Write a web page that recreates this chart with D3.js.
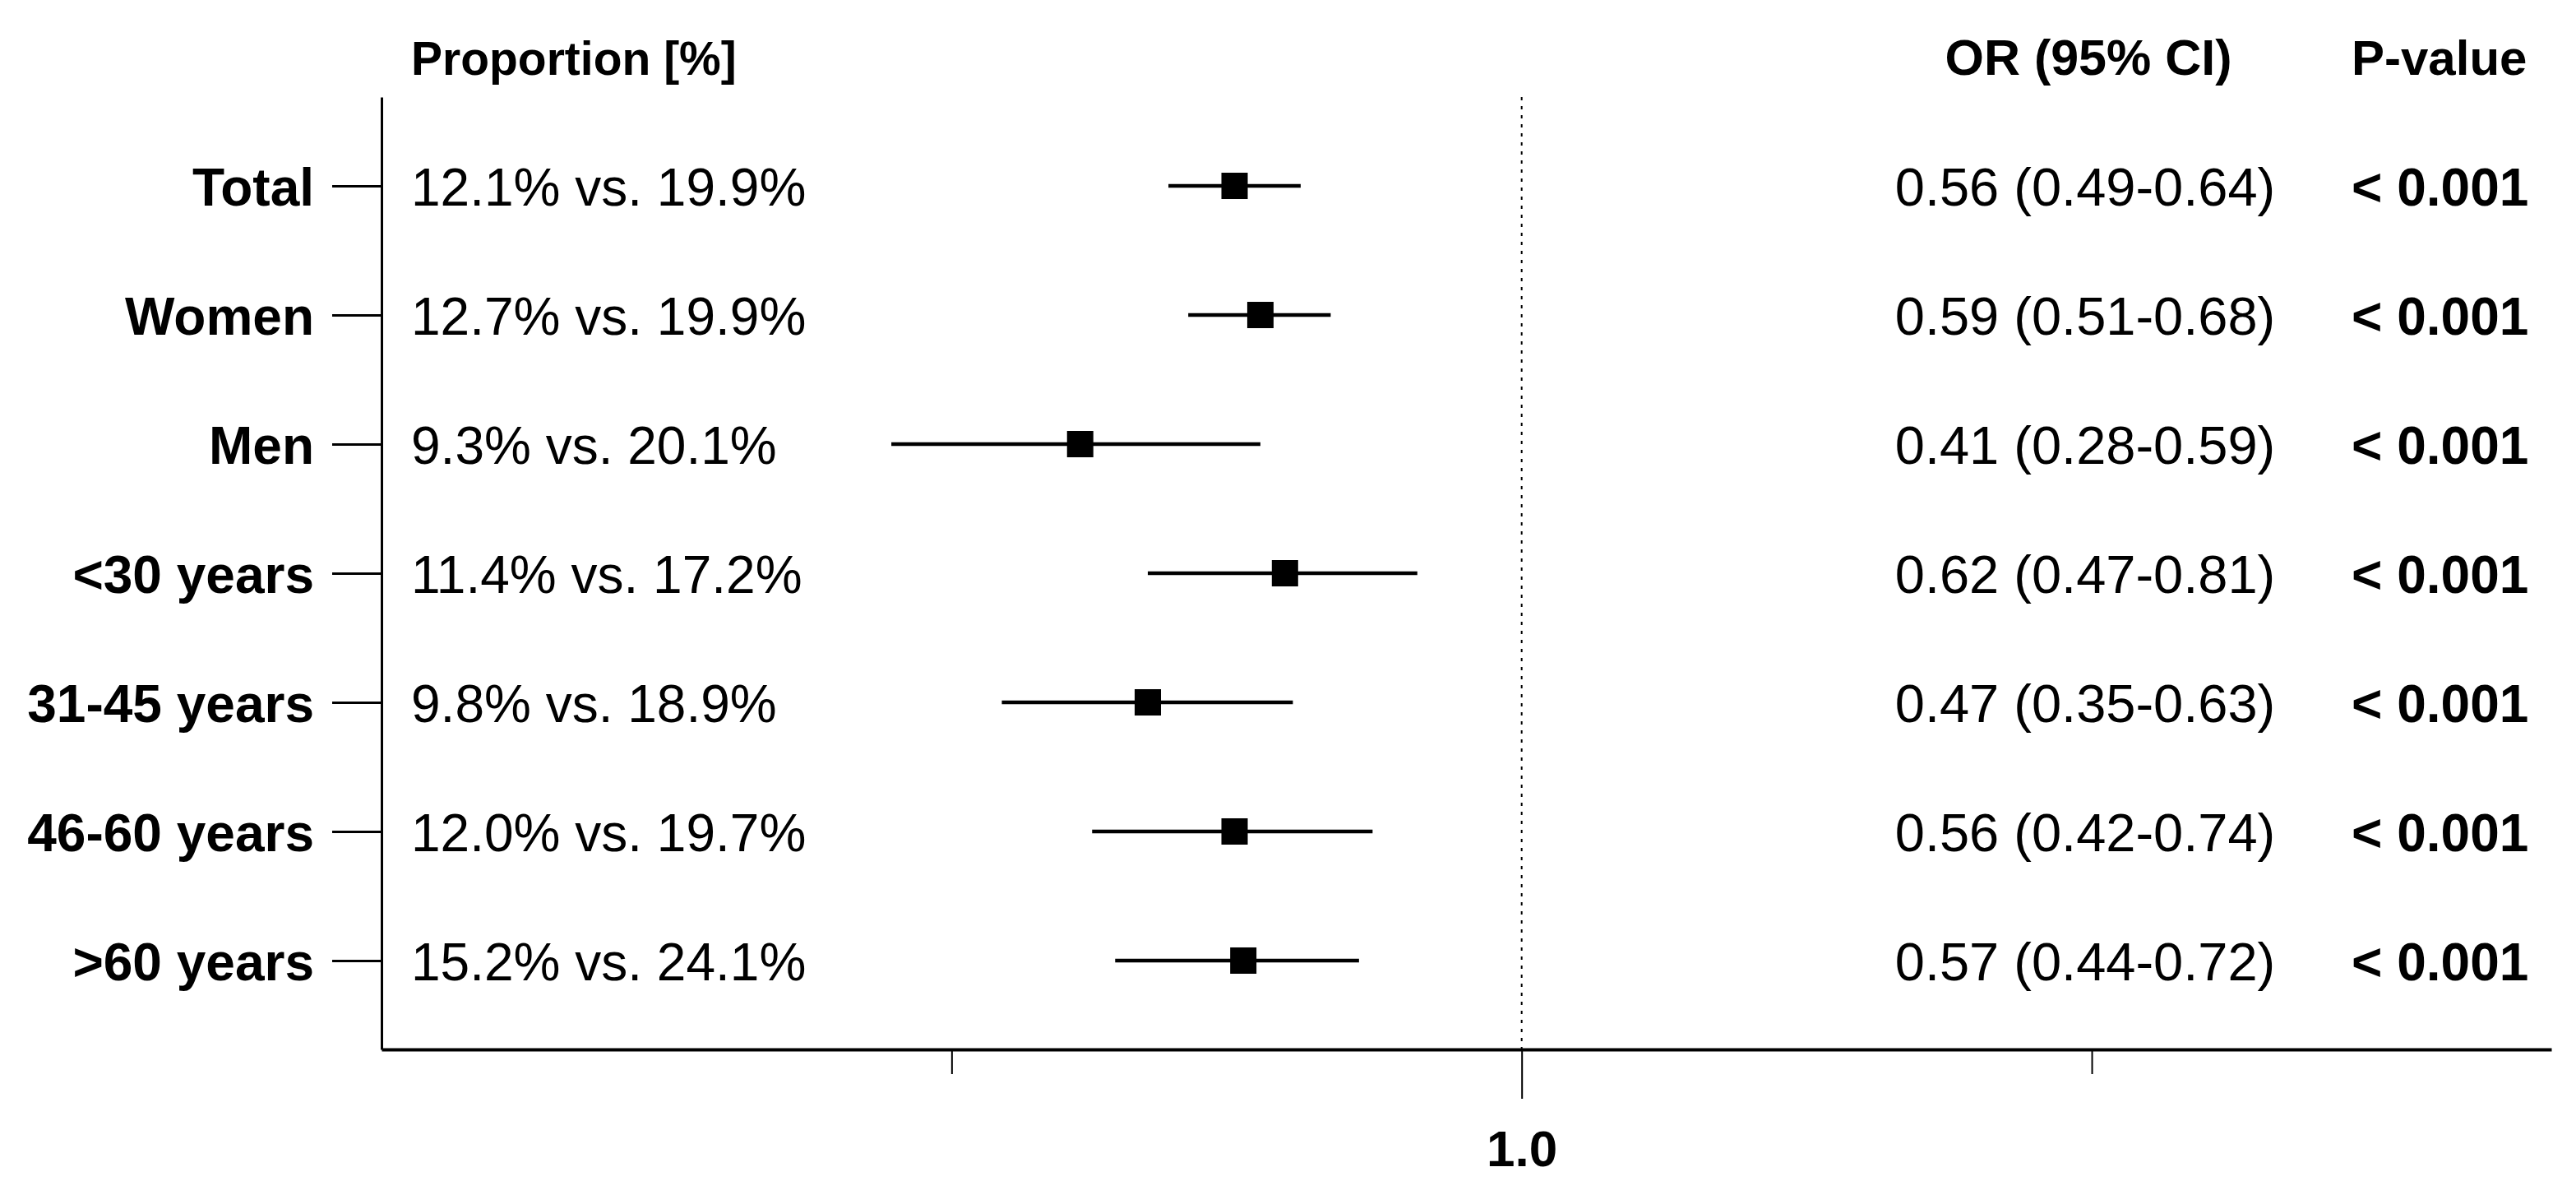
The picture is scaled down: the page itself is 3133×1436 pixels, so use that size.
<!DOCTYPE html>
<html>
<head>
<meta charset="utf-8">
<script src="https://cdn.jsdelivr.net/npm/d3@7"></script>
<style>
  html, body { margin: 0; padding: 0; background: #fff; }
  svg text { font-family: "Liberation Sans", Arial, Helvetica, sans-serif; fill: #000; }
</style>
</head>
<body>
<svg id="chart" width="3133" height="1436"></svg>
<script>
// ---- data ----
const categories = ["Total", "Women", "Men", "<30 years", "31-45 years", "46-60 years", ">60 years"];
const proportions = ["12.1% vs. 19.9%", "12.7% vs. 19.9%", "9.3% vs. 20.1%", "11.4% vs. 17.2%",
                     "9.8% vs. 18.9%", "12.0% vs. 19.7%", "15.2% vs. 24.1%"];
const oddsRatio = [0.56, 0.59, 0.41, 0.62, 0.47, 0.56, 0.57];
const ciLower   = [0.49, 0.51, 0.28, 0.47, 0.35, 0.42, 0.44];
const ciUpper   = [0.64, 0.68, 0.59, 0.81, 0.63, 0.74, 0.72];
const pValues   = ["< 0.001", "< 0.001", "< 0.001", "< 0.001", "< 0.001", "< 0.001", "< 0.001"];
const xTickValues = [Math.pow(10, -0.5), 1, Math.pow(10, 0.5)];
const xTickLabels = ["", "1.0", ""];
const headers = { proportion: "Proportion [%]", or: "OR (95% CI)", p: "P-value" };

const rows = categories.map((c, i) => ({
  cat: c, prop: proportions[i], or: oddsRatio[i], lo: ciLower[i], hi: ciUpper[i], p: pValues[i]
}));

// ---- layout ----
const svg = d3.select("#chart");
const plotLeft = 464, plotRight = 3103, plotTop = 118, plotBottom = 1276;

const x = d3.scaleLog().domain([0.1, 8]).range([plotLeft, plotRight]);
const y = d3.scalePoint().domain(categories).range([plotTop, plotBottom]).padding(0.688);

const bold = 64, regular = 64;

// reference line at 1.0
svg.append("line")
  .attr("x1", x(1)).attr("x2", x(1))
  .attr("y1", plotTop).attr("y2", plotBottom)
  .attr("stroke", "#000").attr("stroke-width", 2)
  .attr("stroke-dasharray", "4,7");

// left axis
const yAxis = svg.append("g")
  .attr("transform", `translate(${plotLeft},0)`)
  .call(d3.axisLeft(y).tickSize(60).tickSizeOuter(0).tickPadding(22));
yAxis.select(".domain").attr("stroke", "#000").attr("stroke-width", 3);
yAxis.selectAll(".tick line").attr("stroke", "#000").attr("stroke-width", 3);
yAxis.selectAll(".tick text")
  .attr("font-size", bold).attr("font-weight", "bold")
  .attr("font-family", '"Liberation Sans", Arial, sans-serif')
  .attr("dy", "0.36em");

// bottom axis
const xAxis = svg.append("g")
  .attr("transform", `translate(0,${plotBottom})`)
  .call(d3.axisBottom(x).tickValues(xTickValues).tickSize(30).tickSizeOuter(0)
        .tickFormat((d, i) => xTickLabels[i]));
xAxis.select(".domain").attr("stroke", "#000").attr("stroke-width", 4);
xAxis.selectAll(".tick line").attr("stroke", "#000").attr("stroke-width", 2)
  .attr("y2", (d, i) => xTickLabels[i] ? 60 : 30);
xAxis.selectAll(".tick text")
  .attr("font-size", 62).attr("font-weight", "bold")
  .attr("font-family", '"Liberation Sans", Arial, sans-serif')
  .attr("y", 142).attr("dy", 0);

// headers
const headerY = 91;
svg.append("text").attr("x", 500).attr("y", headerY)
  .attr("font-size", 57).attr("font-weight", "bold").text(headers.proportion);
svg.append("text").attr("x", 2540).attr("y", headerY).attr("text-anchor", "middle")
  .attr("font-size", 61).attr("font-weight", "bold").text(headers.or);
svg.append("text").attr("x", 2860).attr("y", headerY)
  .attr("font-size", 60).attr("font-weight", "bold").text(headers.p);

// rows
const g = svg.append("g");
const rowG = g.selectAll("g.row").data(rows).join("g").attr("class", "row");

rowG.append("text")
  .attr("x", 500).attr("y", d => y(d.cat)).attr("dy", "0.37em")
  .attr("font-size", regular).text(d => d.prop);

rowG.append("line")
  .attr("x1", d => x(d.lo)).attr("x2", d => x(d.hi))
  .attr("y1", d => y(d.cat)).attr("y2", d => y(d.cat))
  .attr("stroke", "#000").attr("stroke-width", 4.5);

const sq = 32;
rowG.append("rect")
  .attr("x", d => x(d.or) - sq / 2).attr("y", d => y(d.cat) - sq / 2)
  .attr("width", sq).attr("height", sq).attr("fill", "#000");

rowG.append("text")
  .attr("x", 2536).attr("y", d => y(d.cat)).attr("dy", "0.37em").attr("text-anchor", "middle")
  .attr("font-size", 65)
  .text(d => `${d.or.toFixed(2)} (${d.lo.toFixed(2)}-${d.hi.toFixed(2)})`);

rowG.append("text")
  .attr("x", 2860).attr("y", d => y(d.cat)).attr("dy", "0.37em")
  .attr("font-size", bold).attr("font-weight", "bold").text(d => d.p);
</script>
</body>
</html>
